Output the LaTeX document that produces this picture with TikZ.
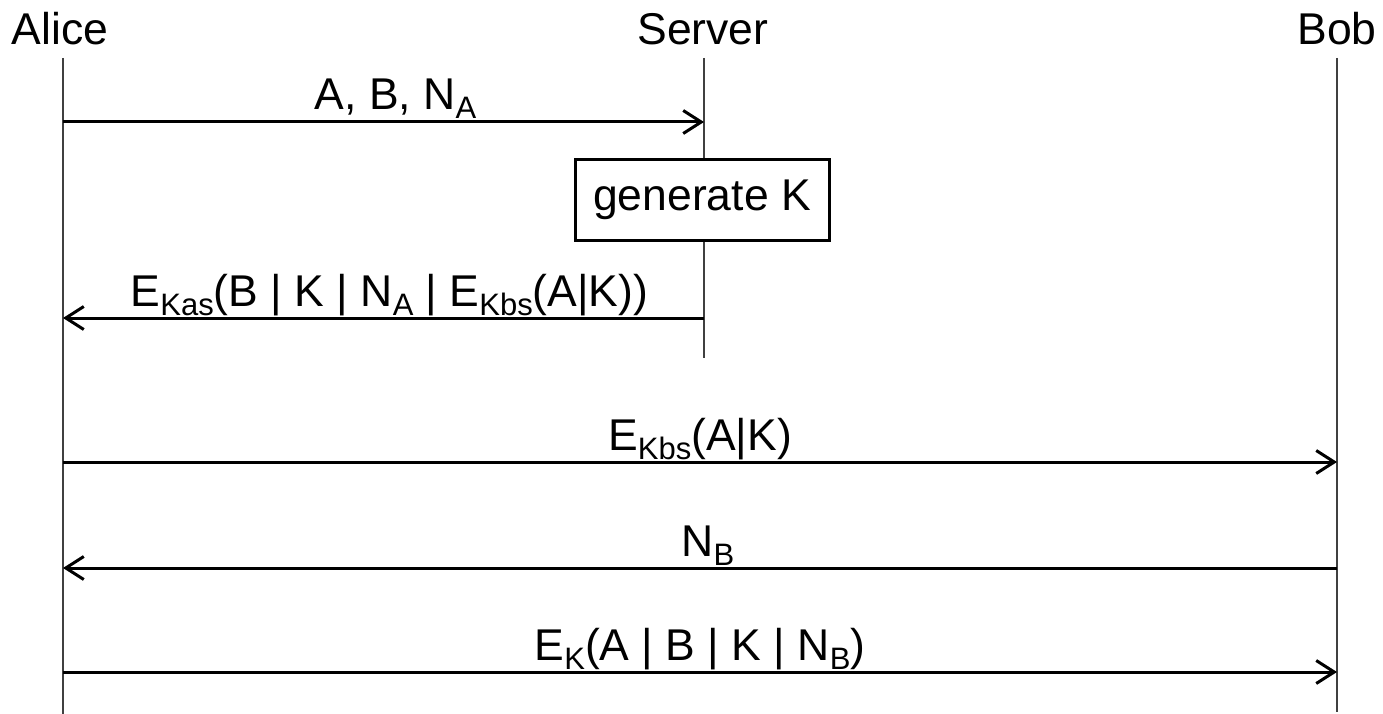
\documentclass[tikz,border=0pt]{standalone}
\usepackage{fontspec}
\setmainfont{Liberation Sans}
\usetikzlibrary{arrows.meta}
\newcommand{\lowsub}[1]{\raisebox{-9pt}{\fontsize{31}{32}\selectfont #1}}
\begin{document}
\begin{tikzpicture}[x=1pt,y=-1pt,
  every node/.style={font=\fontsize{44.5}{50}\selectfont, inner sep=0pt},
  head/.style={anchor=base},
  life/.style={line width=2pt, draw=black!75},
  msg/.style={line width=3pt, -{Straight Barb[length=18pt,width=23pt]}},
  lbl/.style={anchor=base, yshift=12pt},
  actbox/.style={draw, line width=3pt, fill=white, minimum width=254pt, minimum height=80pt}]
\useasboundingbox (0,0) rectangle (1383,714);
% heads
\node[head] (alice) at (60,45) {Alice};
\node[head] (server) at (703,45) {Server};
\node[head] (bob) at (1337,45) {Bob};
% lifeline ends
\coordinate (at) at (63,58);  \coordinate (ab) at (63,714);
\coordinate (st) at (704,58); \coordinate (sb) at (704,358);
\coordinate (bt) at (1337,58); \coordinate (bb) at (1337,712);
\draw[life] (at) -- (ab);
\draw[life] (st) -- (sb);
\draw[life] (bt) -- (bb);
% message points
\coordinate (a1) at (63,122);  \coordinate (s1) at (704,122);
\coordinate (a2) at (63,318);  \coordinate (s2) at (704,318);
\coordinate (a3) at (63,462);  \coordinate (b3) at (1337,462);
\coordinate (a4) at (63,568);  \coordinate (b4) at (1337,568);
\coordinate (a5) at (63,672);  \coordinate (b5) at (1337,672);
% box
\node[actbox] (gen) at (702,200) {generate K};
% messages
\draw[msg] (a1) -- node[lbl, xshift=12pt] (l1) {A, B, N\lowsub{A}} (s1);
\draw[msg] (s2) -- node[lbl, xshift=6pt] (l2) {E\lowsub{Kas}(B | K | N\lowsub{A} | E\lowsub{Kbs}(A|K))} (a2);
\draw[msg] (a3) -- node[lbl] (l3) {E\lowsub{Kbs}(A|K)} (b3);
\draw[msg] (b4) -- node[lbl, xshift=8pt] (l4) {N\lowsub{B}} (a4);
\draw[msg] (a5) -- node[lbl] (l5) {E\lowsub{K}(A | B | K | N\lowsub{B})} (b5);
\end{tikzpicture}
\end{document}
